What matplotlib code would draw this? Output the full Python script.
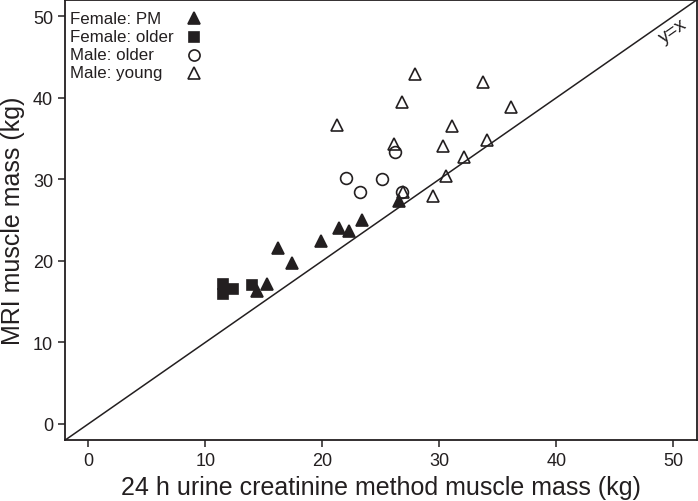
import matplotlib
matplotlib.use('Agg')
import matplotlib.pyplot as plt

plt.rcParams['font.family'] = ['Liberation Sans', 'DejaVu Sans']

# values (kg)
female_pm_x = [14.4, 15.3, 16.2, 17.4, 19.9, 21.4, 22.3, 23.4, 26.6]
female_pm_y = [16.3, 17.2, 21.6, 19.8, 22.4, 24.0, 23.7, 25.0, 27.3]

female_older_x = [11.5, 11.5, 12.4, 14.0]
female_older_y = [17.2, 16.0, 16.6, 17.0]

male_older_x = [22.0, 23.2, 25.1, 26.2, 26.8]
male_older_y = [30.2, 28.4, 30.1, 33.3, 28.5]

male_young_x = [27.9, 33.7, 26.8, 36.1, 21.3, 31.1, 26.1, 30.3, 34.1, 32.1, 30.6, 26.9, 29.5]
male_young_y = [42.9, 42.0, 39.5, 38.9, 36.7, 36.5, 34.3, 34.1, 34.8, 32.8, 30.4, 28.4, 27.9]

ticks = [0, 10, 20, 30, 40, 50]
ink = '#231f20'

fig = plt.figure(figsize=(6.98, 5.02), dpi=100)
ax = fig.add_axes([0.093, 0.121, 0.905, 0.877])

ax.plot([-2, 52], [-2, 52], color=ink, lw=1.1, zorder=1)
ax.text(50.0, 48.2, 'y=x', rotation=35, ha='center', va='center', fontsize=13.5, color=ink)

ms = 8.5
# marker styles for each group: (label, marker, size, filled)
groups = [
    ('Female: PM', female_pm_x, female_pm_y, '^', ms, True),
    ('Female: older', female_older_x, female_older_y, 's', ms - 0.7, True),
    ('Male: older', male_older_x, male_older_y, 'o', ms, False),
    ('Male: young', male_young_x, male_young_y, '^', ms + 0.5, False),
]

for i, (label, xs, ys, mk, size, filled) in enumerate(groups):
    face = ink if filled else 'none'
    ax.plot(xs, ys, mk, ms=size, mfc=face, mec=ink, mew=1.2, ls='none',
            zorder=3 if filled else 2)
    # legend: label on the left, marker to the right, in a column
    ly = 0.958 - i * 0.041
    ax.text(0.008, ly, label, transform=ax.transAxes, ha='left', va='center',
            fontsize=12.2, color=ink)
    ax.plot([0.204], [ly], mk, ms=size - 0.5, mfc=face, mec=ink, mew=1.2,
            transform=ax.transAxes, clip_on=False)

ax.set_xlim(-2, 52)
ax.set_ylim(-2, 52)
ax.set_xticks(ticks)
ax.set_yticks(ticks)
ax.tick_params(direction='out', length=5, width=1.1, color=ink, labelcolor=ink, labelsize=13)
for s in ax.spines.values():
    s.set_linewidth(1.3)
    s.set_color(ink)

ax.set_xlabel('24 h urine creatinine method muscle mass (kg)', fontsize=18, color=ink, labelpad=4)
ax.set_ylabel('MRI muscle mass (kg)', fontsize=18, color=ink, labelpad=6)

fig.savefig('out.png', dpi=100)
